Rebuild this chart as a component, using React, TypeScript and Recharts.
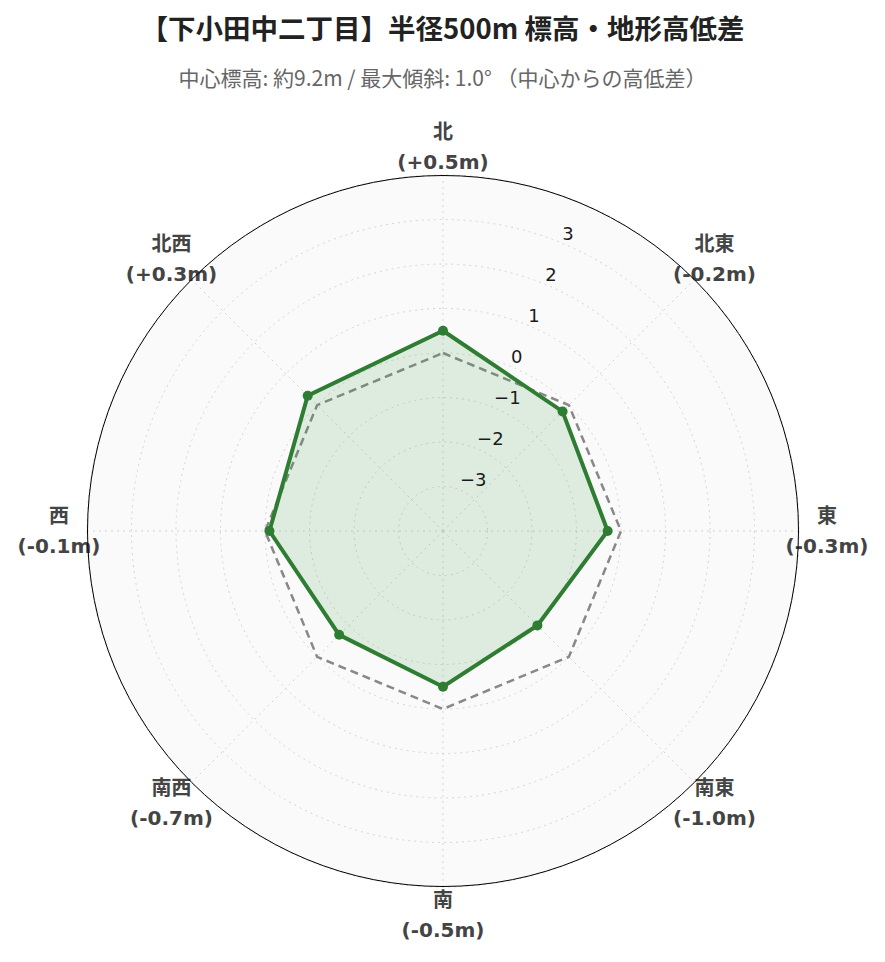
import React from "react";
import { RadarChart, Radar, PolarGrid, PolarAngleAxis, PolarRadiusAxis } from "recharts";

const directions = ["北", "北東", "東", "南東", "南", "南西", "西", "北西"];
const elevationDiff = [0.5, -0.2, -0.3, -1.0, -0.5, -0.7, -0.1, 0.3];
const baseline = [0, 0, 0, 0, 0, 0, 0, 0];
const radiusDomain = [-4, 4];

const TITLE = "【下小田中二丁目】半径500m 標高・地形高低差";
const SUBTITLE = "中心標高: 約9.2m / 最大傾斜: 1.0° （中心からの高低差）";

const W = 885;
const H = 962;
const CX = 443;
const CY = 531;
const R = 356;
const LABEL_R = 384;
const GREEN = "#2e7d32";

const data = directions.map((d, i) => ({
  dir: d,
  diff: elevationDiff[i],
  base: baseline[i],
}));

const fmtDiff = (v: number) => `(${v >= 0 ? "+" : "-"}${Math.abs(v).toFixed(1)}m)`;

function AngleTick(props: any) {
  const { x, y, payload } = props;
  const dx = x - CX;
  const dy = y - CY;
  const len = Math.sqrt(dx * dx + dy * dy) || 1;
  const lx = CX + (dx / len) * LABEL_R;
  const ly = CY + (dy / len) * LABEL_R;
  const idx = directions.indexOf(payload.value);
  const style = {
    fontFamily: "'DejaVu Sans', 'Noto Sans CJK JP', sans-serif",
    fontWeight: 700,
    fontSize: 20,
    fill: "#444",
  };
  return (
    <g>
      <text x={lx} y={ly - 15} textAnchor="middle" dominantBaseline="central" style={style}>
        {payload.value}
      </text>
      <text x={lx} y={ly + 15} textAnchor="middle" dominantBaseline="central" style={style}>
        {fmtDiff(elevationDiff[idx])}
      </text>
    </g>
  );
}

function RadiusTick(props: any) {
  const { x, y, payload } = props;
  const v = Number(payload.value);
  if (Math.abs(v) >= 4) return <g />;
  const label = v < 0 ? `\u2212${Math.abs(v)}` : `${v}`;
  return (
    <text
      x={x}
      y={y - 10}
      textAnchor="start"
      dominantBaseline="central"
      style={{ fontFamily: "'DejaVu Sans', sans-serif", fontSize: 18, fill: "#1a1a1a" }}
    >
      {label}
    </text>
  );
}

function GreenDot(props: any) {
  const { cx, cy, index } = props;
  return <circle key={`dot-${index}`} cx={cx} cy={cy} r={5} fill={GREEN} stroke="none" />;
}

export default function App() {
  return (
    <div style={{ position: "absolute", left: 0, top: 0, width: W, height: H, background: "#fff" }}>
      <div
        style={{
          position: "absolute",
          left: 0,
          top: 7,
          width: W,
          textAlign: "center",
          fontFamily: "'Noto Sans CJK JP', sans-serif",
          fontWeight: 700,
          fontSize: 27.5,
          color: "#222",
          lineHeight: "40px",
          whiteSpace: "nowrap",
        }}
      >
        {TITLE}
      </div>
      <div
        style={{
          position: "absolute",
          left: 0,
          top: 62,
          width: W,
          textAlign: "center",
          fontFamily: "'Noto Sans CJK JP', sans-serif",
          fontSize: 21,
          color: "#666",
          lineHeight: "30px",
          whiteSpace: "nowrap",
        }}
      >
        {SUBTITLE}
      </div>
      <div
        style={{
          position: "absolute",
          left: CX - R,
          top: CY - R,
          width: 2 * R,
          height: 2 * R,
          borderRadius: "50%",
          background: "#fafafa",
          boxSizing: "border-box",
        }}
      />
      <div style={{ position: "absolute", left: 0, top: 0 }}>
        <RadarChart
          width={W}
          height={H}
          cx={CX}
          cy={CY}
          outerRadius={R}
          data={data}
          margin={{ top: 0, right: 0, bottom: 0, left: 0 }}
        >
          <PolarGrid gridType="circle" stroke="#d4d4d4" strokeDasharray="2 4" />
          <PolarAngleAxis dataKey="dir" tick={<AngleTick />} tickLine={false} axisLine={false} />
          <PolarRadiusAxis
            angle={67.5}
            domain={radiusDomain}
            tickCount={9}
            axisLine={false}
            tick={<RadiusTick />}
          />
          <Radar
            dataKey="base"
            stroke="#888"
            strokeWidth={2.5}
            strokeDasharray="8 5"
            fill="none"
            fillOpacity={0}
            dot={false}
            isAnimationActive={false}
          />
          <Radar
            dataKey="diff"
            stroke={GREEN}
            strokeWidth={4}
            fill="#43a047"
            fillOpacity={0.15}
            dot={GreenDot}
            isAnimationActive={false}
          />
        </RadarChart>
      </div>
      <div
        style={{
          position: "absolute",
          left: CX - R,
          top: CY - R,
          width: 2 * R,
          height: 2 * R,
          borderRadius: "50%",
          border: "1.5px solid #000",
          boxSizing: "border-box",
          pointerEvents: "none",
        }}
      />
    </div>
  );
}
